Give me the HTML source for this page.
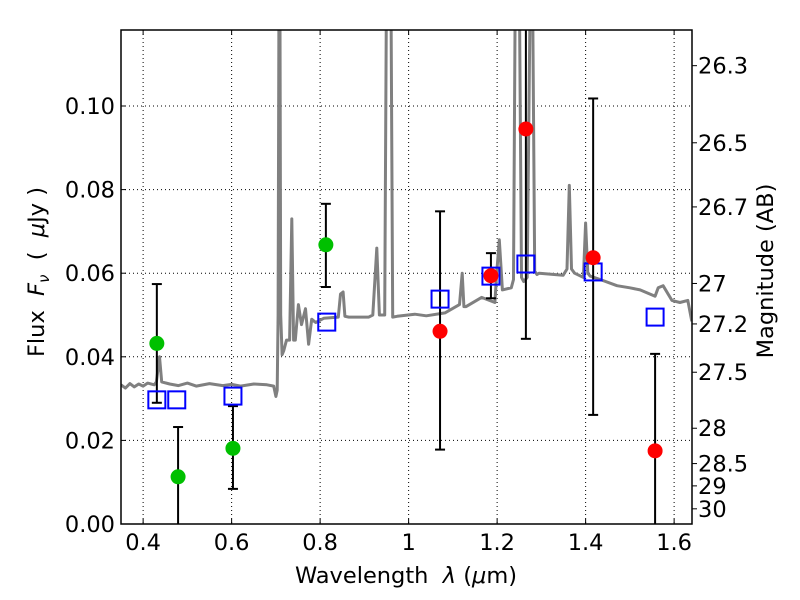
<!DOCTYPE html>
<html><head><meta charset="utf-8">
<style>
html,body{margin:0;padding:0;background:#fff;}
svg{display:block;font-family:"DejaVu Sans","Liberation Sans",sans-serif;}
</style></head>
<body>
<svg id="chart" width="800" height="600" viewBox="0 0 800 600" xmlns="http://www.w3.org/2000/svg"></svg>
<script>
// ---- data ----
const specLam = [0.35,0.36,0.37,0.38,0.39,0.40,0.41,0.425,0.430,0.437,0.442,0.46,0.48,0.50,0.52,0.55,0.58,0.60,0.62,0.65,0.68,0.695,0.700,0.703,0.705,0.707,0.709,0.711,0.714,0.718,0.724,0.731,0.736,0.740,0.744,0.751,0.758,0.767,0.774,0.781,0.790,0.808,0.841,0.846,0.852,0.856,0.865,0.910,0.919,0.928,0.934,0.946,0.950,0.955,0.960,0.964,0.974,1.014,1.04,1.082,1.115,1.121,1.125,1.130,1.165,1.195,1.199,1.205,1.212,1.232,1.237,1.241,1.245,1.250,1.255,1.260,1.268,1.275,1.280,1.285,1.290,1.295,1.349,1.358,1.363,1.368,1.375,1.395,1.400,1.405,1.410,1.433,1.471,1.500,1.523,1.557,1.564,1.575,1.595,1.613,1.631,1.640];
const specFlux = [0.0333,0.0325,0.0336,0.0328,0.0335,0.0330,0.0337,0.0333,0.034,0.040,0.034,0.0335,0.0331,0.0337,0.0330,0.0336,0.0331,0.0334,0.0330,0.0335,0.0333,0.0330,0.0305,0.032,0.05,0.13,0.13,0.05,0.0405,0.0415,0.0440,0.0440,0.0730,0.044,0.0440,0.0525,0.0477,0.0515,0.0430,0.0490,0.0482,0.0492,0.0495,0.0550,0.0555,0.0497,0.0495,0.0495,0.0500,0.0660,0.0500,0.0500,0.13,0.13,0.13,0.0495,0.0497,0.0502,0.0498,0.0505,0.0525,0.0600,0.0520,0.0520,0.0542,0.0530,0.0600,0.0680,0.0560,0.0565,0.0585,0.13,0.13,0.13,0.0590,0.0580,0.0590,0.13,0.13,0.0605,0.0597,0.0600,0.0595,0.0610,0.0810,0.0610,0.0600,0.0590,0.0720,0.0600,0.0593,0.0585,0.0570,0.0565,0.0560,0.0545,0.0565,0.0570,0.0535,0.0530,0.0535,0.0485];
const greenLam = [0.431,0.479,0.603,0.813];
const greenFlux = [0.0432,0.0113,0.0181,0.0668];
const greenLo = [0.0290,-0.01,0.0084,0.0567];
const greenHi = [0.0574,0.0232,0.0282,0.0766];
const redLam = [1.071,1.186,1.265,1.417,1.557];
const redFlux = [0.0461,0.0594,0.0945,0.0637,0.0175];
const redLo = [0.0178,0.0540,0.0443,0.0261,-0.01];
const redHi = [0.0748,0.0648,0.13,0.1018,0.0407];
const boxLam = [0.431,0.476,0.603,0.815,1.071,1.186,1.265,1.417,1.557];
const boxFlux = [0.0297,0.0297,0.0306,0.0483,0.0538,0.0593,0.0622,0.0603,0.0495];
const xTicks = [0.4,0.6,0.8,1.0,1.2,1.4,1.6];
const xTickLabels = ["0.4","0.6","0.8","1","1.2","1.4","1.6"];
const yTicks = [0,0.02,0.04,0.06,0.08,0.10];
const yTickLabels = ["0.00","0.02","0.04","0.06","0.08","0.10"];
const magTicks = [26.3,26.5,26.7,27,27.2,27.5,28,28.5,29,30];
const magLabels = ["26.3","26.5","26.7","27","27.2","27.5","28","28.5","29","30"];

// ---- axes ----
const L=121,R=692,T=30,B=524;
const xmin=0.35,xmax=0.35+(R-L)/442.5,ymin=0,ymax=(B-T)/4180;
const X=v=>L+(v-xmin)/(xmax-xmin)*(R-L);
const Y=v=>B-(v-ymin)/(ymax-ymin)*(B-T);
const magToFlux=m=>Math.pow(10,(23.9-m)/2.5);
const svg=document.getElementById('chart');
const NS="http://www.w3.org/2000/svg";
function mk(tag,attrs,parent){const e=document.createElementNS(NS,tag);for(const k in attrs)e.setAttribute(k,attrs[k]);(parent||svg).appendChild(e);return e;}

const defs=mk('defs',{});
const cp=mk('clipPath',{id:'clip'},defs);
mk('rect',{x:L,y:T,width:R-L,height:B-T},cp);

const grid=mk('g',{});


xTicks.forEach(v=>mk('line',{x1:X(v),x2:X(v),y1:T,y2:B,stroke:'#000','stroke-width':1,'stroke-dasharray':'1,3'},grid));
yTicks.forEach(v=>mk('line',{x1:L,x2:R,y1:Y(v),y2:Y(v),stroke:'#000','stroke-width':1,'stroke-dasharray':'1,3'},grid));

const plot=mk('g',{'clip-path':'url(#clip)'});
const sp=mk('path',{d:specLam.map((l,i)=>(i?'L':'M')+X(l).toFixed(1)+','+Y(specFlux[i]).toFixed(1)).join(''),fill:'none',stroke:'#808080','stroke-width':3,'stroke-linejoin':'round'},plot);



function errbar(l,lo,hi,name){
  const g=mk('g',{},plot);
  
  
  mk('line',{x1:X(l),x2:X(l),y1:Y(lo),y2:Y(hi),stroke:'#000','stroke-width':2},g);
  mk('line',{x1:X(l)-5,x2:X(l)+5,y1:Y(lo),y2:Y(lo),stroke:'#000','stroke-width':2},g);
  mk('line',{x1:X(l)-5,x2:X(l)+5,y1:Y(hi),y2:Y(hi),stroke:'#000','stroke-width':2},g);
}
greenLam.forEach((l,i)=>errbar(l,greenLo[i],greenHi[i],'green-errorbar'));
redLam.forEach((l,i)=>errbar(l,redLo[i],redHi[i],'red-errorbar'));
boxLam.forEach((l,i)=>{
  const r=mk('rect',{x:X(l)-8.5,y:Y(boxFlux[i])-8.5,width:17,height:17,fill:'none',stroke:'#0000ff','stroke-width':2},plot);
  
  
});
greenLam.forEach((l,i)=>{
  const c=mk('circle',{cx:X(l),cy:Y(greenFlux[i]),r:7.5,fill:'#00c000'},plot);
  
  
});
redLam.forEach((l,i)=>{
  const c=mk('circle',{cx:X(l),cy:Y(redFlux[i]),r:7.5,fill:'#ff0000'},plot);
  
  
});

const fr=mk('rect',{x:L,y:T,width:R-L,height:B-T,fill:'none',stroke:'#000','stroke-width':1.5});



xTicks.forEach((v,i)=>{
  mk('line',{x1:X(v),x2:X(v),y1:B,y2:B-5,stroke:'#000'});
  mk('line',{x1:X(v),x2:X(v),y1:T,y2:T+5,stroke:'#000'});
  const t=mk('text',{x:X(v),y:B+26,'text-anchor':'middle','font-size':22.5});
  t.textContent=xTickLabels[i];
  
  
});
yTicks.forEach((v,i)=>{
  mk('line',{x1:L,x2:L+5,y1:Y(v),y2:Y(v),stroke:'#000'});
  const t=mk('text',{x:L-6,y:Y(v)+8,'text-anchor':'end','font-size':22.5});
  t.textContent=yTickLabels[i];
  
  
});
magTicks.forEach((m,i)=>{
  const y=Y(magToFlux(m));
  mk('line',{x1:R,x2:R+5,y1:y,y2:y,stroke:'#000'});
  const t=mk('text',{x:R+6,y:y+8,'font-size':22.5});
  t.textContent=magLabels[i];
  
  
});
</script>
<svg style="position:absolute;left:0;top:0" width="800" height="600">
<text x="406" y="583" text-anchor="middle" font-size="22.5" font-family="DejaVu Sans, sans-serif" xml:space="preserve">Wavelength  <tspan font-style="italic">λ</tspan> (<tspan font-style="italic">μ</tspan>m)</text>
<text transform="translate(44,272) rotate(-90)" text-anchor="middle" font-size="22.5" font-family="DejaVu Sans, sans-serif" xml:space="preserve">Flux  <tspan font-style="italic">F</tspan><tspan font-style="italic" font-size="15" dy="5">ν</tspan><tspan dy="-5">  (  </tspan><tspan font-style="italic">μ</tspan>Jy )</text>
<text transform="translate(773,271) rotate(-90)" text-anchor="middle" font-size="22.5" font-family="DejaVu Sans, sans-serif">Magnitude (AB)</text>
</svg>
</body></html>
